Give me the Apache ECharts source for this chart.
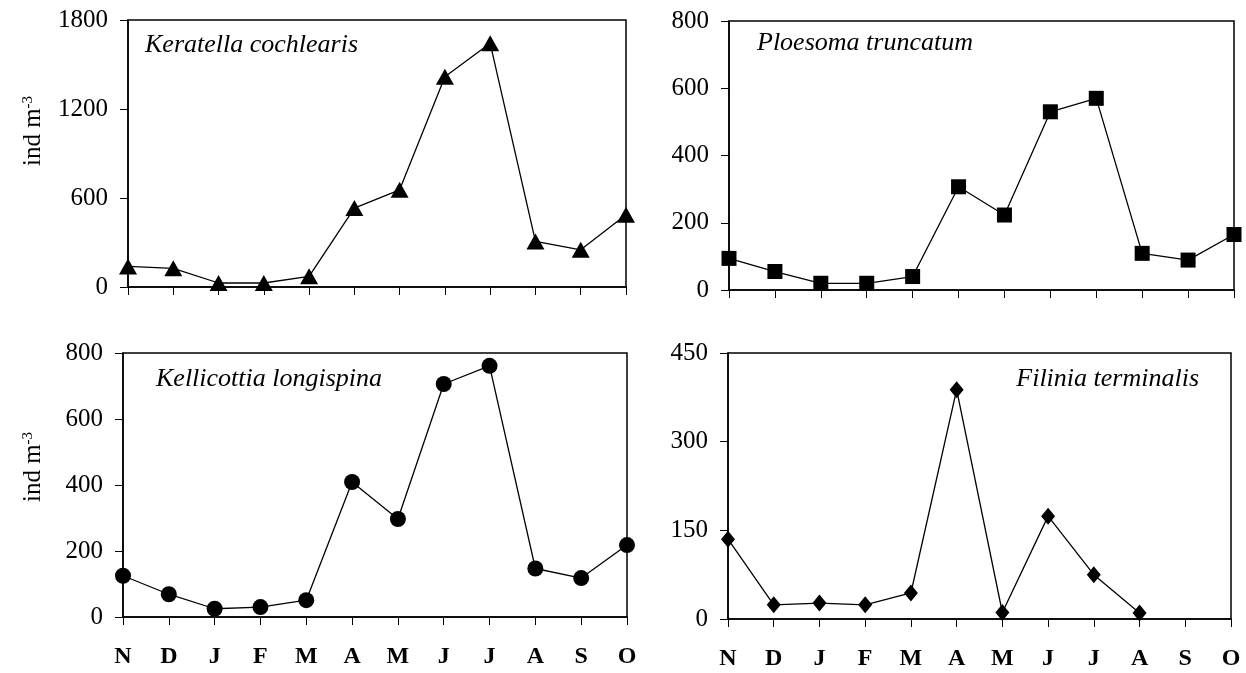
<!DOCTYPE html>
<html>
<head>
<meta charset="utf-8">
<script src="https://cdn.jsdelivr.net/npm/echarts@6/dist/echarts.min.js"></script>
<style>
    html, body { margin: 0; padding: 0; background: #ffffff; }
    #rotifers { width: 1246px; height: 673px; }
</style>
</head>
<body>
<div id="rotifers"></div>
<script>
// months, Nov -> Oct
var months = ['N', 'D', 'J', 'F', 'M', 'A', 'M', 'J', 'J', 'A', 'S', 'O'];
var species = ['Keratella cochlearis', 'Ploesoma truncatum', 'Kellicottia longispina', 'Filinia terminalis'];
var keratella = [139, 126, 27, 27, 72, 532, 655, 1418, 1643, 307, 251, 487];
var ploesoma = [94, 55, 20, 20, 40, 307, 223, 530, 570, 109, 89, 165];
var kellicottia = [125, 69, 25, 30, 51, 409, 297, 706, 761, 147, 118, 218];
var filinia = [135, 24, 27, 24, 44, 388, 11, 174, 75, 10, null, null];
var yMax = [1800, 800, 800, 450];
var yStep = [600, 200, 200, 150];

var font = 'Liberation Serif';
var chart = echarts.init(document.getElementById('rotifers'));

var grids = [
    { left: 128, top: 20, width: 498, height: 267 },
    { left: 729, top: 21, width: 505, height: 269 },
    { left: 123, top: 353, width: 504, height: 264 },
    { left: 728, top: 353, width: 503, height: 266 }
];
var allData = [keratella, ploesoma, kellicottia, filinia];
var symbols = ['triangle', 'rect', 'circle', 'diamond'];
var symbolSizes = [[18, 16], 15, 16, [14, 17]];

var xAxes = [], yAxes = [], series = [];
for (var i = 0; i < 4; i++) {
    grids[i].show = true;
    grids[i].borderColor = '#000';
    grids[i].borderWidth = 1.5;
    xAxes.push({
        type: 'category',
        gridIndex: i,
        data: months,
        boundaryGap: false,
        axisLine: { lineStyle: { color: '#000', width: 1.5 } },
        axisTick: { show: true, length: 8, interval: 0, lineStyle: { color: '#000', width: 1 } },
        axisLabel: {
            show: i >= 2,
            interval: 0,
            margin: 28,
            color: '#000',
            fontFamily: font,
            fontWeight: 'bold',
            fontSize: 24
        },
        splitLine: { show: false }
    });
    yAxes.push({
        type: 'value',
        gridIndex: i,
        min: 0,
        max: yMax[i],
        interval: yStep[i],
        axisLine: { show: true, lineStyle: { color: '#000', width: 1.5 } },
        axisTick: { show: true, length: 8, lineStyle: { color: '#000', width: 1 } },
        axisLabel: {
            margin: 20,
            color: '#000',
            fontFamily: font,
            fontSize: 25,
            formatter: function (v) { return String(v); }
        },
        splitLine: { show: false }
    });
    series.push({
        type: 'line',
        name: species[i],
        xAxisIndex: i,
        yAxisIndex: i,
        data: allData[i],
        symbol: symbols[i],
        symbolSize: symbolSizes[i],
        showAllSymbol: true,
        connectNulls: false,
        lineStyle: { color: '#000', width: 1.3 },
        itemStyle: { color: '#000' },
        animation: false
    });
}

// y unit label, ind m^-3, rotated
var unitLabel = function (cy) {
    return {
        type: 'text',
        x: 33,
        y: cy,
        rotation: Math.PI / 2,
        style: {
            text: '{a|ind m}{b|-3}',
            align: 'center',
            verticalAlign: 'middle',
            rich: {
                a: { fontFamily: font, fontSize: 25, fill: '#000' },
                b: { fontFamily: font, fontSize: 15, fill: '#000', verticalAlign: 'top' }
            }
        }
    };
};

var option = {
    backgroundColor: '#ffffff',
    animation: false,
    title: [
        { text: species[0], left: 145, top: 32 },
        { text: species[1], left: 757, top: 30 },
        { text: species[2], left: 156, top: 366 },
        { text: species[3], right: 47, top: 366 }
    ].map(function (t) {
        t.textStyle = { fontFamily: font, fontStyle: 'italic', fontWeight: 'normal', fontSize: 26, color: '#000' };
        t.padding = 0;
        return t;
    }),
    graphic: [unitLabel(131), unitLabel(467)],
    grid: grids,
    xAxis: xAxes,
    yAxis: yAxes,
    series: series
};
chart.setOption(option);
</script>
</body>
</html>
